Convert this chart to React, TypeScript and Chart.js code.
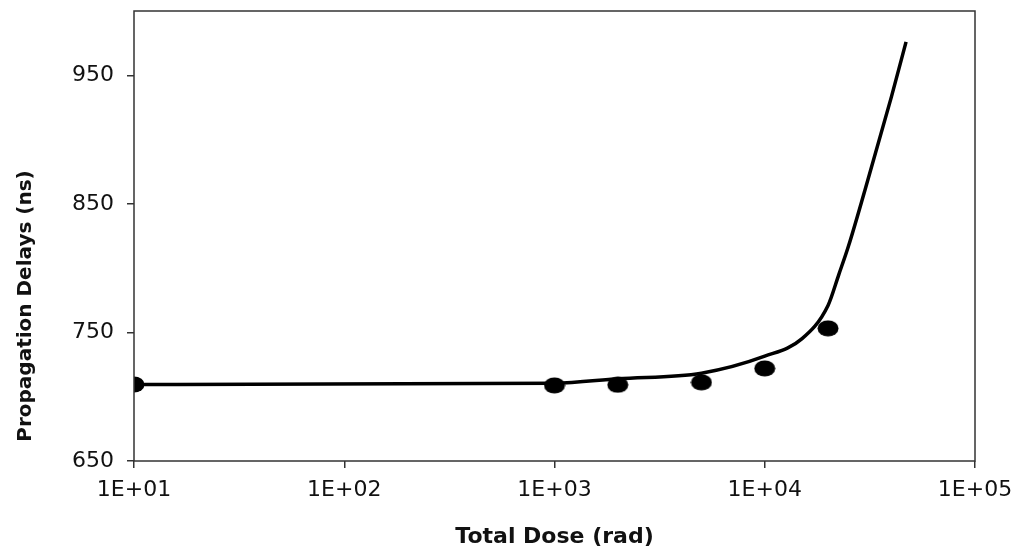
import React, { useEffect, useRef } from "react";
import { Chart, registerables } from "chart.js";

Chart.register(...registerables);

const pointDose = [10, 1000, 2000, 5000, 10000, 20000];
const pointDelay = [709.5, 708.8, 709.3, 711.2, 722, 753.2];
const curveDose = [10, 1000, 2000, 5000, 10000, 15000, 20000, 22500, 25000, 30000, 40000, 47000];
const curveDelay = [709.5, 710.5, 714, 718.3, 731.5, 745, 771, 795, 817, 861, 933, 976];
const xTicks = [10, 100, 1000, 10000, 100000];
const yTicks = [650, 750, 850, 950];
const xTitle = "Total Dose (rad)";
const yTitle = "Propagation Delays (ns)";

const FONT = "'DejaVu Sans', 'Liberation Sans', Arial, sans-serif";
const INK = "#111";

function makeDot(): HTMLCanvasElement {
  const c = document.createElement("canvas");
  c.width = 22;
  c.height = 17;
  const g = c.getContext("2d")!;
  g.fillStyle = "#000";
  g.beginPath();
  g.ellipse(11, 8.5, 10.5, 8, 0, 0, Math.PI * 2);
  g.fill();
  return c;
}

const framePlugin = {
  id: "frame",
  afterDraw(chart: any) {
    const { ctx, chartArea } = chart;
    ctx.save();
    ctx.strokeStyle = "#333";
    ctx.lineWidth = 1.5;
    ctx.strokeRect(chartArea.left, chartArea.top, chartArea.right - chartArea.left, chartArea.bottom - chartArea.top);
    ctx.restore();
  },
};

const yTitlePlugin = {
  id: "yTitle",
  afterDraw(chart: any) {
    const { ctx } = chart;
    ctx.save();
    ctx.translate(26, 306);
    ctx.rotate(-Math.PI / 2);
    ctx.font = `bold 20px ${FONT}`;
    ctx.fillStyle = INK;
    ctx.textAlign = "center";
    ctx.textBaseline = "middle";
    ctx.fillText(yTitle, 0, 0);
    ctx.restore();
  },
};

export default function App() {
  const ref = useRef<HTMLCanvasElement | null>(null);

  useEffect(() => {
    if (!ref.current) return;
    const dot = makeDot();
    const chart = new Chart(ref.current, {
      type: "line",
      data: {
        datasets: [
          {
            label: "fit",
            data: curveDose.map((x, i) => ({ x, y: curveDelay[i] })),
            borderColor: "#000",
            borderWidth: 3.5,
            pointRadius: 0,
            cubicInterpolationMode: "monotone",
            fill: false,
          },
          {
            label: "measured",
            data: pointDose.map((x, i) => ({ x, y: pointDelay[i] })),
            showLine: false,
            pointStyle: dot as any,
            pointRadius: 10,
            backgroundColor: "#000",
            borderColor: "#000",
          },
        ],
      } as any,
      options: {
        responsive: false,
        animation: false,
        layout: { padding: { left: 0, right: 44, top: 8, bottom: 0 } },
        plugins: { legend: { display: false }, tooltip: { enabled: false } },
        scales: {
          x: {
            type: "logarithmic",
            min: 10,
            max: 100000,
            afterBuildTicks: (s: any) => {
              s.ticks = xTicks.map((v) => ({ value: v }));
            },
            afterFit: (s: any) => {
              s.height = 89;
              s.paddingLeft = 0;
              s.paddingRight = 0;
            },
            ticks: {
              autoSkip: false,
              maxRotation: 0,
              padding: 9,
              color: INK,
              font: { family: FONT, size: 22 },
              callback: (v: any) => "1E+" + String(Math.round(Math.log10(Number(v)))).padStart(2, "0"),
            },
            grid: { drawOnChartArea: false, tickLength: 7, color: "#333", lineWidth: 1.5 },
            border: { display: false },
            title: {
              display: true,
              text: xTitle,
              color: INK,
              padding: 0,
              font: { family: FONT, size: 22, weight: "bold" },
            },
          },
          y: {
            type: "linear",
            min: 650,
            max: 1000,
            afterBuildTicks: (s: any) => {
              s.ticks = yTicks.map((v) => ({ value: v }));
            },
            afterFit: (s: any) => {
              s.width = 134;
              s.paddingTop = 0;
              s.paddingBottom = 0;
            },
            ticks: {
              padding: 13,
              color: INK,
              font: { family: FONT, size: 22 },
              callback: (v: any) => String(v),
            },
            grid: { drawOnChartArea: false, tickLength: 7, color: "#333", lineWidth: 1.5 },
            border: { display: false },
          },
        },
      } as any,
      plugins: [framePlugin, yTitlePlugin],
    });
    return () => chart.destroy();
  }, []);

  return (
    <div style={{ position: "absolute", left: 0, top: 0, width: 1019, height: 550, background: "#fff" }}>
      <canvas ref={ref} width={1019} height={550} style={{ width: 1019, height: 550, display: "block" }} />
    </div>
  );
}
